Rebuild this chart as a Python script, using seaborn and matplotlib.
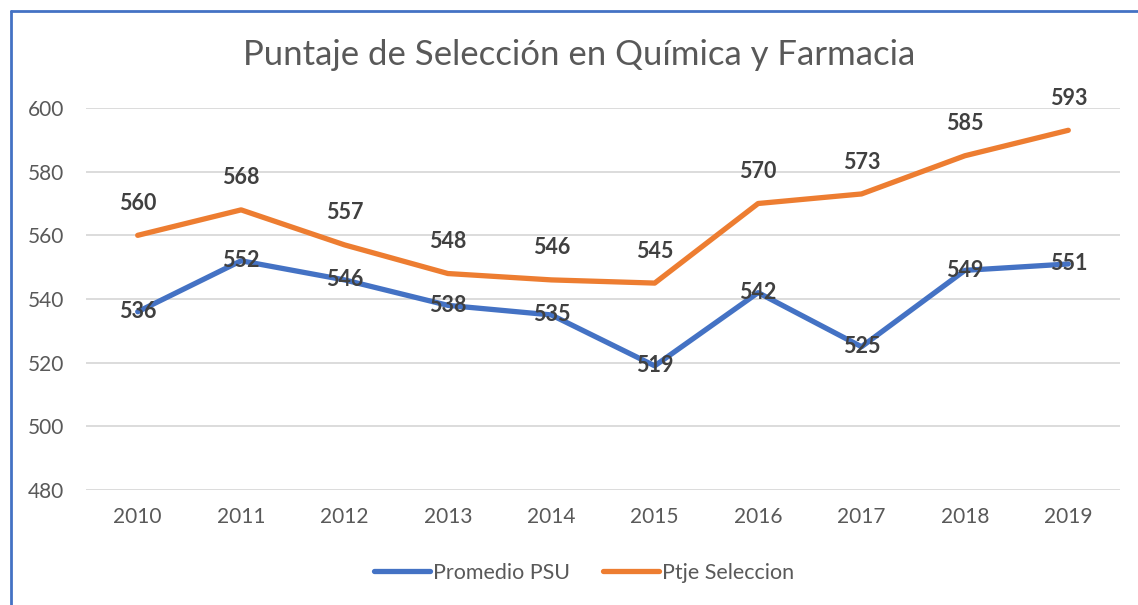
import pandas as pd
import matplotlib
matplotlib.use("Agg")
import matplotlib.pyplot as plt
from matplotlib.lines import Line2D
import seaborn as sns

# data
years = [2010, 2011, 2012, 2013, 2014, 2015, 2016, 2017, 2018, 2019]
promedio_psu = [536, 552, 546, 538, 535, 519, 542, 525, 549, 551]
ptje_seleccion = [560, 568, 557, 548, 546, 545, 570, 573, 585, 593]
series_names = ["Promedio PSU", "Ptje Seleccion"]
colors = ["#4472C4", "#ED7D31"]

df = pd.DataFrame({
    "Year": [str(y) for y in years] * 2,
    "Valor": promedio_psu + ptje_seleccion,
    "Serie": [series_names[0]] * len(years) + [series_names[1]] * len(years),
})

sns.set_theme(style="white")
plt.rcParams["font.family"] = ["Lato", "DejaVu Sans"]
text_gray = "#595959"
label_gray = "#404040"

fig = plt.figure(figsize=(11.38, 6.05), dpi=100)
ax = fig.add_axes([86 / 1138, 1 - 490 / 605, (1120 - 86) / 1138, (490 - 108) / 605])

sns.lineplot(data=df, x="Year", y="Valor", hue="Serie", palette=colors,
             linewidth=3.8, sort=False, ax=ax, legend=False)
for line in ax.lines:
    line.set_solid_capstyle("round")
    line.set_solid_joinstyle("round")

ax.set_ylim(480, 600)
ax.set_yticks(range(480, 601, 20))
ax.set_xlim(-0.5, len(years) - 0.5)
ax.grid(axis="y", color="#D9D9D9", linewidth=1.3)
ax.set_axisbelow(True)
for s in ax.spines.values():
    s.set_visible(False)
ax.tick_params(axis="both", length=0, labelsize=15, labelcolor=text_gray)
ax.tick_params(axis="y", pad=16)
ax.tick_params(axis="x", pad=12)
ax.set_xlabel("")
ax.set_ylabel("")

# data labels: blue centred on point, orange above
for i, v in enumerate(promedio_psu):
    ax.annotate(str(v), (i, v), ha="center", va="center", fontsize=15.5,
                fontweight="bold", color=label_gray)
for i, v in enumerate(ptje_seleccion):
    ax.annotate(str(v), (i, v), xytext=(0, 23), textcoords="offset points",
                ha="center", va="center", fontsize=15.5, fontweight="bold",
                color=label_gray)

fig.text(579 / 1138, 1 - 55 / 605, "Puntaje de Selección en Química y Farmacia",
         ha="center", va="center", fontsize=25, color=text_gray)

handles = [Line2D([0], [0], color=c, linewidth=3.8, solid_capstyle="round")
           for c in colors]
fig.legend(handles, series_names, loc="center", bbox_to_anchor=(584 / 1138, 1 - 573 / 605),
           ncol=2, frameon=False, fontsize=15.5, labelcolor=text_gray,
           handlelength=2.6, handletextpad=0.15, columnspacing=1.5)

# chart frame (right/bottom edges fall outside the image)
fx = 10.5 / 1138
fy = 1 - 10.5 / 605
fig.add_artist(Line2D([fx, fx], [fy, -0.1], color="#4472C4", linewidth=2,
                      transform=fig.transFigure))
fig.add_artist(Line2D([fx, 1.1], [fy, fy], color="#4472C4", linewidth=2,
                      transform=fig.transFigure))

fig.savefig("out.png", dpi=100)
